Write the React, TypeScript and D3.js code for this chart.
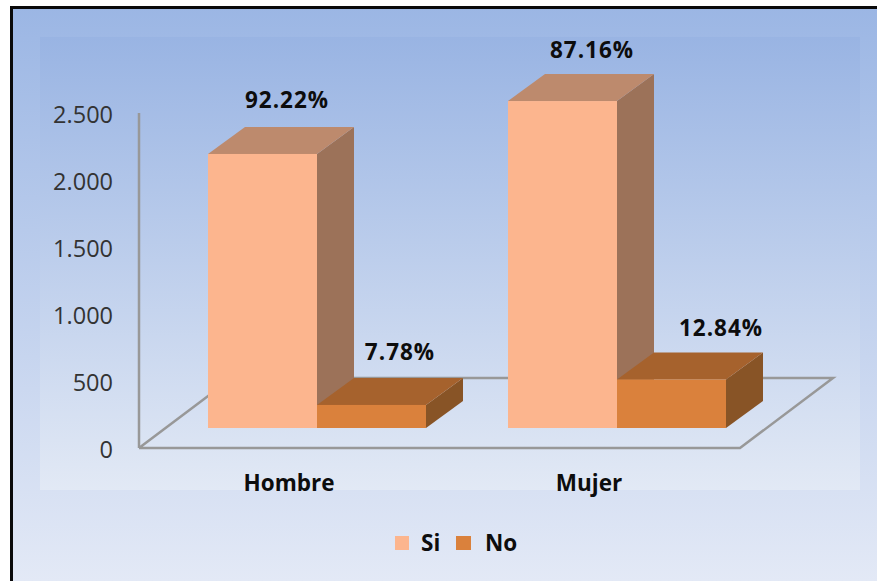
import React from "react";
import * as d3 from "d3";

const categories = ["Hombre", "Mujer"];
const seriesNames = ["Si", "No"];
const siValues = [2045, 2440];
const noValues = [172, 362];
const siLabels = ["92.22%", "87.16%"];
const noLabels = ["7.78%", "12.84%"];
const yTicks = [0, 500, 1000, 1500, 2000, 2500];
const tickLabels = ["0", "500", "1.000", "1.500", "2.000", "2.500"];

const FONT = "'Open Sans', 'Noto Sans', sans-serif";
const W = 877, H = 581;
const axisX = 139, floorY = 448, axisTop = 113;
const floorRight = 740, floorDx = 93, floorDy = -70;
const baseY = 428; // bar front bottom
const depthDx = 37, depthDy = -27;
const barW = 109;

// hand-placed label nudges, as in the source chart
const siLabelDx = [-30, -25];
const siLabelDy = [-46, -43];
const noLabelDx = [83, 104];
const noLabelDy = [-45, -43];

const yScale = d3.scaleLinear().domain([0, 2500]).range([floorY, axisTop]);
const h = (v: number) => floorY - yScale(v);
const xCenter = d3.scalePoint<string>().domain(categories).range([317, 617]);

const colors = {
  si: { front: "#fcb58e", top: "#bd8a6d", side: "#9c7259" },
  no: { front: "#da813c", top: "#a6622d", side: "#885426" },
};

function Bar({ x, w, top, c }: { x: number; w: number; top: number; c: typeof colors.si }) {
  const poly = (p: number[][]) => p.map((d) => d.join(",")).join(" ");
  return (
    <g>
      <polygon fill={c.side} points={poly([[x + w, top], [x + w + depthDx, top + depthDy], [x + w + depthDx, baseY + depthDy], [x + w, baseY]])} />
      <polygon fill={c.top} points={poly([[x, top], [x + depthDx, top + depthDy], [x + w + depthDx, top + depthDy], [x + w, top]])} />
      <rect x={x} y={top} width={w} height={baseY - top} fill={c.front} />
    </g>
  );
}

export default function App() {
  const floorPts = [
    [axisX, floorY],
    [floorRight, floorY],
    [floorRight + floorDx, floorY + floorDy],
    [axisX + floorDx, floorY + floorDy],
    [axisX, floorY],
  ];
  const pct = { fontSize: 22.5, fontWeight: 700, textAnchor: "middle" as const, fill: "#0d0d0d", letterSpacing: 1 };
  return (
    <svg width={W} height={H} style={{ position: "absolute", left: 0, top: 0, background: "#fff" }} fontFamily={FONT}>
      <defs>
        <linearGradient id="outer" x1="0" y1="0" x2="0" y2="1">
          <stop offset="0" stopColor="#9bb6e4" />
          <stop offset="1" stopColor="#e3e9f6" />
        </linearGradient>
        <linearGradient id="inner" x1="0" y1="0" x2="0" y2="1">
          <stop offset="0" stopColor="#99b4e3" />
          <stop offset="1" stopColor="#e2e9f5" />
        </linearGradient>
      </defs>
      <rect x={10} y={6} width={W - 10} height={H - 6} fill="url(#outer)" />
      <path d={`M11.5 ${H} V7.5 H${W}`} fill="none" stroke="#0a0a0a" strokeWidth={3} />
      <rect x={40} y={37} width={820} height={453} fill="url(#inner)" />

      <polyline points={floorPts.map((d) => d.join(",")).join(" ")} fill="none" stroke="#989898" strokeWidth={2.5} />
      <line x1={axisX} x2={axisX} y1={axisTop} y2={floorY} stroke="#989898" strokeWidth={2.5} />

      {yTicks.map((t, i) => (
        <text key={t} x={113} y={yScale(t) + 2} dy="0.36em" textAnchor="end" fontSize={23.5} fill="#333">
          {tickLabels[i]}
        </text>
      ))}

      {categories.map((cat, i) => {
        const cx = xCenter(cat)!;
        const topSi = baseY - h(siValues[i]);
        const topNo = baseY - h(noValues[i]);
        return (
          <g key={cat}>
            <Bar x={cx - barW} w={barW} top={topSi} c={colors.si} />
            <Bar x={cx} w={barW} top={topNo} c={colors.no} />
            <text x={cx + siLabelDx[i]} y={topSi + siLabelDy[i]} {...pct}>{siLabels[i]}</text>
            <text x={cx + noLabelDx[i]} y={topNo + noLabelDy[i]} {...pct}>{noLabels[i]}</text>
            <text x={cx - 28} y={491} fontSize={22.5} fontWeight={700} textAnchor="middle" fill="#0d0d0d">{cat}</text>
          </g>
        );
      })}

      <rect x={395} y={536} width={14} height={14} fill={colors.si.front} />
      <text x={421} y={551} fontSize={22.5} fontWeight={700} fill="#0d0d0d">{seriesNames[0]}</text>
      <rect x={456} y={536} width={15} height={14} fill={colors.no.front} />
      <text x={485} y={551} fontSize={22.5} fontWeight={700} fill="#0d0d0d">{seriesNames[1]}</text>
    </svg>
  );
}
